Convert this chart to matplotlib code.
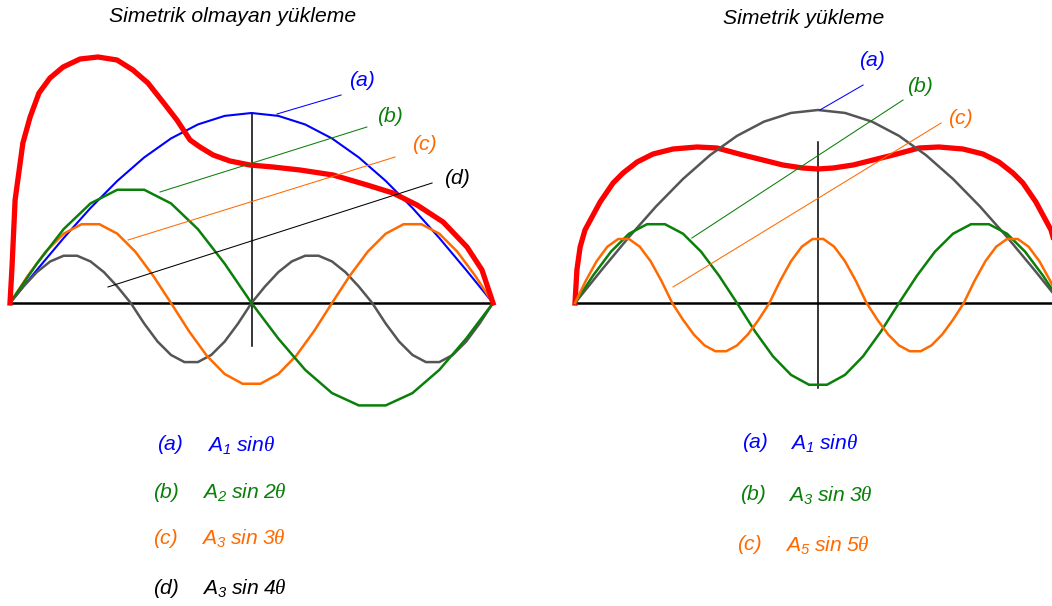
import numpy as np
import matplotlib
matplotlib.use("Agg")
import matplotlib.pyplot as plt

plt.rcParams["font.family"] = ["Liberation Sans", "DejaVu Sans"]
plt.rcParams["mathtext.fontset"] = "custom"
plt.rcParams["mathtext.sf"] = "Liberation Sans:italic"
plt.rcParams["mathtext.rm"] = "Liberation Sans:italic"
plt.rcParams["mathtext.it"] = "Liberation Serif:italic"

# ---------------- data ----------------
# harmonic components: (positive-lobe amplitude, negative-lobe amplitude)
left_orders = [1, 2, 3, 4]
left_amp_up = [190, 115, 80, 48]
left_amp_down = [190, 104, 82, 60]
left_keys = ["(a)", "(b)", "(c)", "(d)"]
left_formulas = [r"$\mathsf{A}_{\mathsf{1}}\mathsf{\ sin}\theta$",
                 r"$\mathsf{A}_{\mathsf{2}}\mathsf{\ sin\ 2}\theta$",
                 r"$\mathsf{A}_{\mathsf{3}}\mathsf{\ sin\ 3}\theta$",
                 r"$\mathsf{A}_{\mathsf{3}}\mathsf{\ sin\ 4}\theta$"]

right_orders = [1, 3, 5]
right_amp_up = [193, 80, 65]
right_amp_down = [193, 83, 49]
right_keys = ["(a)", "(b)", "(c)"]
right_formulas = [r"$\mathsf{A}_{\mathsf{1}}\mathsf{\ sin}\theta$",
                  r"$\mathsf{A}_{\mathsf{3}}\mathsf{\ sin\ 3}\theta$",
                  r"$\mathsf{A}_{\mathsf{5}}\mathsf{\ sin\ 5}\theta$"]

# resulting load distribution, theta in degrees
left_total_theta = [0, 0.75, 1.9, 4.8, 7.5, 10.8, 14.9, 19.8, 26.1, 32.8, 39.9,
                    45.8, 51.4, 57.0, 62.2, 67.1, 70.8, 75.7, 82.0, 89.4, 98.0,
                    108.1, 120.4, 133.1, 142.7, 151.7, 161.4, 170.3, 175.9, 180]
left_total_value = [0, 36, 103, 160, 186, 210, 225, 236, 244, 246, 243,
                    233, 220, 201, 183, 163, 156, 148, 142, 138, 136,
                    133, 128, 118, 110, 98, 81, 56, 33, 0]

right_total_theta = [0, 0.7, 1.9, 3.7, 6.3, 9.3, 14.1, 17.8, 23.0, 28.9, 36.3,
                     45.2, 52.6, 62.2, 69.6, 77.0, 84.4, 90.0, 95.6, 103.0,
                     110.4, 117.8, 127.4, 134.8, 143.7, 151.1, 157.0, 162.2,
                     165.9, 170.7, 173.7, 176.3, 178.1, 179.3, 180]
right_total_value = [0, 33, 56, 73, 86, 101, 120, 130, 141, 149, 154,
                     156, 155, 148, 143, 138, 135, 134, 135, 138,
                     143, 148, 155, 156, 154, 149, 141, 130,
                     120, 101, 86, 73, 56, 33, 0]

W, H = 1052, 606
fig = plt.figure(figsize=(W / 100, H / 100), dpi=100)

BLUE = "#0000FF"
GREEN = "#0A7F0A"
ORANGE = "#FF6A00"
GRAY = "#555555"
RED = "#FF0000"
BLACK = "#000000"
FS = 15.2


def make_axes(px_left, px_width):
    ax = fig.add_axes([px_left / W, 0, px_width / W, 1])
    ax.set_xlim(0, 180)
    ax.set_ylim(-303, 303)
    ax.axis("off")
    return ax


def harmonic(order, up, down, segs_per_half):
    t = np.linspace(0, 180, order * segs_per_half + 1)
    s = np.sin(np.radians(order * t))
    return t, np.where(s > 0, up * s, down * s)


# ---------------- left panel: asymmetric loading ----------------
axL = make_axes(10, 483)
axL.plot([0, 180], [0, 0], color=BLACK, lw=1.8, clip_on=False)
axL.plot([90, 90], [190, -43], color=BLACK, lw=1.1)

left_colors = [BLUE, GREEN, ORANGE, GRAY]
left_segs = [18, 9, 9, 9]
curves = {}
for n, up, dn, sp in zip(left_orders, left_amp_up, left_amp_down, left_segs):
    curves[n] = harmonic(n, up, dn, sp)
for n in [1, 4, 3, 2]:
    t, v = curves[n]
    i = left_orders.index(n)
    axL.plot(t, v, color=left_colors[i], lw=1.5 if n == 1 else 1.8,
             clip_on=False, solid_joinstyle="miter")
axL.plot(left_total_theta, left_total_value, color=RED, lw=3.8,
         clip_on=False, solid_joinstyle="round")

left_leaders = [((99.5, 189), (123.4, 208)), ((55.9, 111), (133.0, 176)),
                ((44.0, 63), (143.5, 146)), ((36.5, 16), (157.3, 120))]
left_label_pos = [(131.2, 223), (141.6, 186), (154.3, 158), (166.6, 125)]
left_label_colors = [BLUE, GREEN, ORANGE, BLACK]
for (p0, p1), (lx, ly), key, c in zip(left_leaders, left_label_pos, left_keys, left_label_colors):
    axL.plot([p0[0], p1[0]], [p0[1], p1[1]], color=c, lw=0.75)
    axL.text(lx, ly, key, color=c, fontsize=FS, style="italic",
             ha="center", va="center")

# ---------------- right panel: symmetric loading ----------------
axR = make_axes(575, 486)
axR.plot([0, 180], [0, 0], color=BLACK, lw=1.8, clip_on=False)
axR.plot([90, 90], [161, -85], color=BLACK, lw=1.1)
axR.plot(right_total_theta, right_total_value, color=RED, lw=3.8,
         clip_on=False, solid_joinstyle="round")
right_colors = [GRAY, GREEN, ORANGE]
right_segs = [18, 9, 9]
for n, up, dn, c, sp in zip(right_orders, right_amp_up, right_amp_down, right_colors, right_segs):
    t, v = harmonic(n, up, dn, sp)
    axR.plot(t, v, color=c, lw=1.8, clip_on=False, solid_joinstyle="miter")

right_leaders = [((90.7, 193), (106.7, 218)), ((43.3, 65), (121.5, 203)),
                 ((36.3, 16), (135.6, 180))]
right_label_pos = [(110.0, 243), (127.8, 217), (142.6, 185)]
right_label_colors = [BLUE, GREEN, ORANGE]
for (p0, p1), (lx, ly), key, c in zip(right_leaders, right_label_pos, right_keys, right_label_colors):
    axR.plot([p0[0], p1[0]], [p0[1], p1[1]], color=c, lw=0.75)
    axR.text(lx, ly, key, color=c, fontsize=FS, style="italic",
             ha="center", va="center")

# ---------------- titles ----------------
fig.text(233 / W, 1 - 16 / H, "Simetrik olmayan yükleme", fontsize=FS,
         style="italic", ha="center", va="center")
fig.text(804 / W, 1 - 18 / H, "Simetrik yükleme", fontsize=FS,
         style="italic", ha="center", va="center")

# ---------------- formula key ----------------
left_key_rows = [(157, 207, 445), (153, 202, 492), (153, 201, 538), (153, 202, 588)]
for (kx, fx, y), key, formula, c in zip(left_key_rows, left_keys, left_formulas, left_label_colors):
    fig.text(kx / W, 1 - y / H, key, color=c, fontsize=FS, style="italic",
             ha="left", va="center")
    fig.text(fx / W, 1 - y / H, formula, color=c, fontsize=FS,
             ha="left", va="center")

right_key_rows = [(742, 790, 443), (740, 788, 495), (737, 785, 545)]
for (kx, fx, y), key, formula, c in zip(right_key_rows, right_keys, right_formulas, right_label_colors):
    fig.text(kx / W, 1 - y / H, key, color=c, fontsize=FS, style="italic",
             ha="left", va="center")
    fig.text(fx / W, 1 - y / H, formula, color=c, fontsize=FS,
             ha="left", va="center")

fig.savefig("out.png", dpi=100)
